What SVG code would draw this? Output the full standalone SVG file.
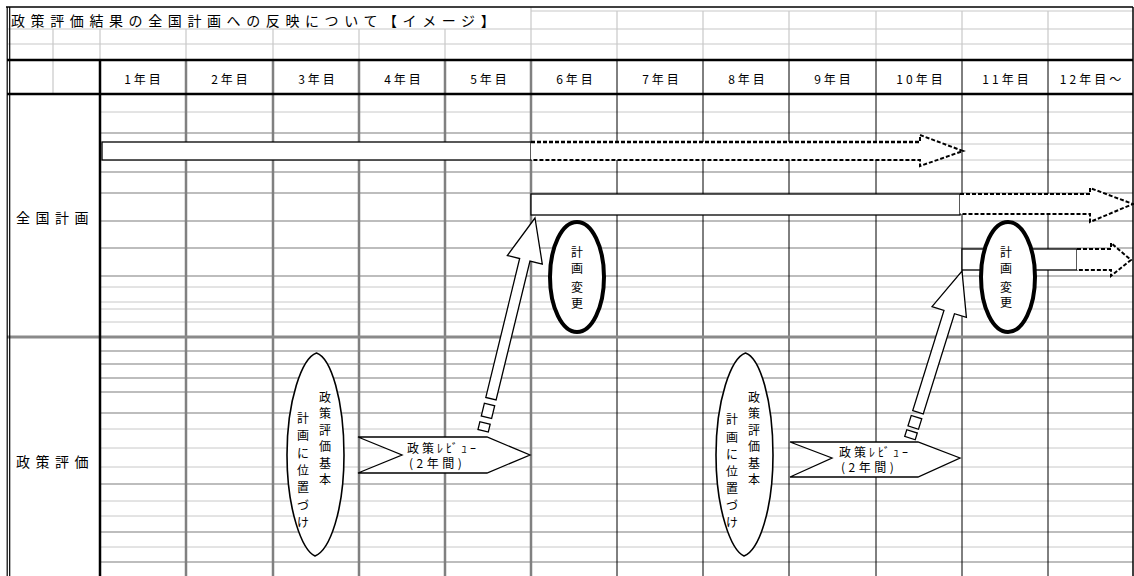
<svg xmlns="http://www.w3.org/2000/svg" width="1134" height="576" viewBox="0 0 1134 576">
<style>
text{font-family:'Noto Sans CJK JP','Noto Sans CJK SC',sans-serif;fill:#000}
.t{font-size:14px;letter-spacing:5px}
.h{font-size:12px;letter-spacing:3px;text-anchor:middle}
.v{font-size:12px;text-anchor:middle}
.p{font-size:12px;letter-spacing:3px}
.g1{stroke:#c8c8c8;stroke-width:1}
.g2{stroke:#bdbdbd;stroke-width:2}
.lt{stroke:#c8c8c8;stroke-width:1.2}
.dk{stroke:#808080;stroke-width:2.5}
.bk{stroke:#000;stroke-width:1}
.bar{fill:#fff;stroke:#000;stroke-width:1.3}
.dash{fill:#fff;stroke:#000;stroke-width:2;stroke-dasharray:4 2}
.hol{fill:#fff;stroke:#000;stroke-width:1.3}
.oval{fill:#fff;stroke:#000;stroke-width:4}
.lens{fill:#fff;stroke:#000;stroke-width:1.6}
</style>
<rect width="1134" height="576" fill="#fff"/>
<g id="grid">
<line class="lt" x1="531" y1="11" x2="1133" y2="11"/>
<line class="lt" x1="8" y1="29" x2="1133" y2="29"/>
<line class="lt" x1="8" y1="44" x2="1133" y2="44"/>
<line class="lt" x1="531" y1="7" x2="531" y2="60"/>
<g class="lt">
<line x1="53" y1="29" x2="53" y2="94"/>
<line x1="100" y1="29" x2="100" y2="60"/>
<line x1="186" y1="29" x2="186" y2="60"/>
<line x1="273" y1="29" x2="273" y2="60"/>
<line x1="359" y1="29" x2="359" y2="60"/>
<line x1="445" y1="29" x2="445" y2="60"/>
<line x1="617" y1="11" x2="617" y2="60"/>
<line x1="703" y1="11" x2="703" y2="60"/>
<line x1="789" y1="11" x2="789" y2="60"/>
<line x1="876" y1="11" x2="876" y2="60"/>
<line x1="962" y1="11" x2="962" y2="60"/>
<line x1="1048" y1="11" x2="1048" y2="60"/>
</g>
<g>
<line class="g1" x1="100" y1="112" x2="1133" y2="112"/>
<line class="g2" x1="100" y1="133" x2="1133" y2="133"/>
<line class="g1" x1="100" y1="144" x2="1133" y2="144"/>
<line class="g1" x1="100" y1="160" x2="1133" y2="160"/>
<line class="g2" x1="100" y1="172" x2="1133" y2="172"/>
<line class="g2" x1="100" y1="193" x2="1133" y2="193"/>
<line class="g2" x1="100" y1="221" x2="1133" y2="221"/>
<line class="g2" x1="100" y1="248" x2="1133" y2="248"/>
<line class="g2" x1="100" y1="276" x2="1133" y2="276"/>
<line class="g1" x1="100" y1="287" x2="1133" y2="287"/>
<line class="g1" x1="100" y1="302" x2="1133" y2="302"/>
<line class="g1" x1="100" y1="309" x2="1133" y2="309" stroke="#dcdcdc"/>
<line class="g1" x1="100" y1="322" x2="1133" y2="322"/>
</g>
<g>
<line class="g2" x1="100" y1="351" x2="1133" y2="351"/>
<line class="g2" x1="100" y1="364" x2="1133" y2="364"/>
<line class="g2" x1="100" y1="378" x2="1133" y2="378"/>
<line class="g2" x1="100" y1="392" x2="1133" y2="392"/>
<line class="g2" x1="100" y1="413" x2="1133" y2="413"/>
<line class="g1" x1="100" y1="429" x2="1133" y2="429"/>
<line class="g1" x1="100" y1="448" x2="1133" y2="448"/>
<line class="g1" x1="100" y1="467" x2="1133" y2="467"/>
<line class="g2" x1="100" y1="484" x2="1133" y2="484"/>
<line class="g1" x1="100" y1="501" x2="1133" y2="501"/>
<line class="g1" x1="100" y1="516" x2="1133" y2="516"/>
<line class="g2" x1="100" y1="532" x2="1133" y2="532"/>
<line class="g1" x1="100" y1="547" x2="1133" y2="547"/>
<line class="g2" x1="100" y1="562" x2="1133" y2="562"/>
</g>
<g class="dk">
<line x1="186" y1="60" x2="186" y2="576"/>
<line x1="273" y1="60" x2="273" y2="576"/>
<line x1="359" y1="60" x2="359" y2="576"/>
<line x1="445" y1="60" x2="445" y2="576"/>
<line x1="531" y1="60" x2="531" y2="576"/>
</g>
<g class="bk">
<line x1="617" y1="60" x2="617" y2="576"/>
<line x1="703" y1="60" x2="703" y2="576"/>
<line x1="789" y1="60" x2="789" y2="576"/>
<line x1="876" y1="60" x2="876" y2="576"/>
<line x1="962" y1="60" x2="962" y2="576"/>
<line x1="1048" y1="60" x2="1048" y2="576"/>
</g>
<line x1="7" y1="337" x2="1133" y2="337" stroke="#8a8a8a" stroke-width="3"/>
<line x1="6" y1="7" x2="1133" y2="7" stroke="#000" stroke-width="1.3"/>
<line x1="7" y1="60" x2="1133" y2="60" stroke="#000" stroke-width="2.5"/>
<line x1="7" y1="94" x2="1133" y2="94" stroke="#000" stroke-width="2.5"/>
<line x1="100" y1="60" x2="100" y2="576" stroke="#000" stroke-width="2.5"/>
<line x1="7.2" y1="7" x2="7.2" y2="576" stroke="#000" stroke-width="1.2"/>
<line x1="9.7" y1="7" x2="9.7" y2="576" stroke="#000" stroke-width="1.2"/>
<line x1="1133" y1="7" x2="1133" y2="576" stroke="#000" stroke-width="1.5"/>
</g>
<g id="title"><text class="t" x="11" y="26" style="letter-spacing:5.6px">政策評価結果の全国計画への反映について【イメージ】</text></g>
<g id="header">
<text class="h" x="144" y="84">1年目</text>
<text class="h" x="231" y="84">2年目</text>
<text class="h" x="318" y="84">3年目</text>
<text class="h" x="404" y="84">4年目</text>
<text class="h" x="490" y="84">5年目</text>
<text class="h" x="576" y="84">6年目</text>
<text class="h" x="662" y="84">7年目</text>
<text class="h" x="748" y="84">8年目</text>
<text class="h" x="834" y="84">9年目</text>
<text class="h" x="921" y="84">10年目</text>
<text class="h" x="1007" y="84">11年目</text>
<text class="h" x="1092" y="84">12年目～</text>
</g>
<g id="label-zenkoku"><text class="t" x="16" y="223" style="letter-spacing:5.5px">全国計画</text></g>
<g id="label-seisaku"><text class="t" x="16" y="467" style="letter-spacing:5.5px">政策評価</text></g>
<g id="plan1">
<rect class="bar" x="102" y="142" width="429" height="18"/>
<path class="dash" d="M531,142 H920 V135 L963,151 L920,166 V160 H531"/>
<line x1="531" y1="142" x2="920" y2="142" stroke="#000" stroke-width="2.6" stroke-dasharray="4 2"/>
</g>
<g id="plan2">
<rect class="bar" x="531" y="194" width="429" height="21"/>
<path class="dash" d="M960,194 H1090 V188 L1133,204 L1090,222 V214 H960"/>
</g>
<g id="plan3">
<rect class="bar" x="962" y="249" width="115" height="21"/>
<path class="dash" d="M1077,249 H1111 V243 L1131,260 L1111,276 V270 H1077"/>
</g>
<g id="connectors">
<g transform="translate(535,218) rotate(13.7)">
<polygon class="hol" points="0,0 18,43 5.3,43 5.3,186 -5.3,186 -5.3,43 -18,43"/>
<rect class="hol" x="-5.3" y="192" width="10.6" height="13"/>
<rect class="hol" x="-5.3" y="211" width="10.6" height="8"/>
</g>
<g transform="translate(962,271) rotate(17.3)">
<polygon class="hol" points="0,0 18,43 5.5,43 5.5,148 -5.5,148 -5.5,43 -18,43"/>
<rect class="hol" x="-5.5" y="153" width="11" height="11"/>
<rect class="hol" x="-5.5" y="168" width="11" height="7"/>
</g>
</g>
<g id="change1">
<ellipse class="oval" cx="577" cy="277" rx="27" ry="55"/>
<text class="v" x="577" y="257">計</text>
<text class="v" x="577" y="273">画</text>
<text class="v" x="577" y="292">変</text>
<text class="v" x="577" y="308">更</text>
</g>
<g id="change2">
<ellipse class="oval" cx="1008" cy="277" rx="27" ry="55"/>
<text class="v" x="1006" y="257">計</text>
<text class="v" x="1006" y="273">画</text>
<text class="v" x="1006" y="292">変</text>
<text class="v" x="1006" y="307">更</text>
</g>
<g id="basic1">
<path class="lens" d="M316.5,353 C302,358 287,400 287,455 C287,510 302,550 315,556 C330,550 344,510 344,455 C344,400 331,358 316.5,353 Z"/>
<text class="v" x="325" y="402">政</text>
<text class="v" x="325" y="418">策</text>
<text class="v" x="325" y="435">評</text>
<text class="v" x="325" y="451">価</text>
<text class="v" x="325" y="468">基</text>
<text class="v" x="325" y="484">本</text>
<text class="v" x="303" y="423">計</text>
<text class="v" x="303" y="440">画</text>
<text class="v" x="303" y="458">に</text>
<text class="v" x="303" y="475">位</text>
<text class="v" x="303" y="492">置</text>
<text class="v" x="303" y="510">づ</text>
<text class="v" x="303" y="527">け</text>
</g>
<g id="basic2">
<path class="lens" d="M745.5,353 C731,358 716,400 716,455 C716,510 731,550 744,556 C759,550 773,510 773,455 C773,400 760,358 745.5,353 Z"/>
<text class="v" x="754" y="402">政</text>
<text class="v" x="754" y="418">策</text>
<text class="v" x="754" y="435">評</text>
<text class="v" x="754" y="451">価</text>
<text class="v" x="754" y="468">基</text>
<text class="v" x="754" y="484">本</text>
<text class="v" x="732" y="424">計</text>
<text class="v" x="732" y="442">画</text>
<text class="v" x="732" y="459">に</text>
<text class="v" x="732" y="476">位</text>
<text class="v" x="732" y="493">置</text>
<text class="v" x="732" y="510">づ</text>
<text class="v" x="732" y="527">け</text>
</g>
<g id="review1">
<polygon class="hol" points="358,437 487,437 530,455 487,473 358,473 402,455"/>
<text class="p" x="407" y="453">政策ﾚﾋﾞｭｰ</text>
<text class="p" x="409" y="468" style="letter-spacing:3.5px">(2年間)</text>
</g>
<g id="review2">
<polygon class="hol" points="790,442 918,442 960,458 918,477 790,477 832,458"/>
<text class="p" x="839" y="457">政策ﾚﾋﾞｭｰ</text>
<text class="p" x="841" y="472" style="letter-spacing:3.5px">(2年間)</text>
</g>
</svg>
